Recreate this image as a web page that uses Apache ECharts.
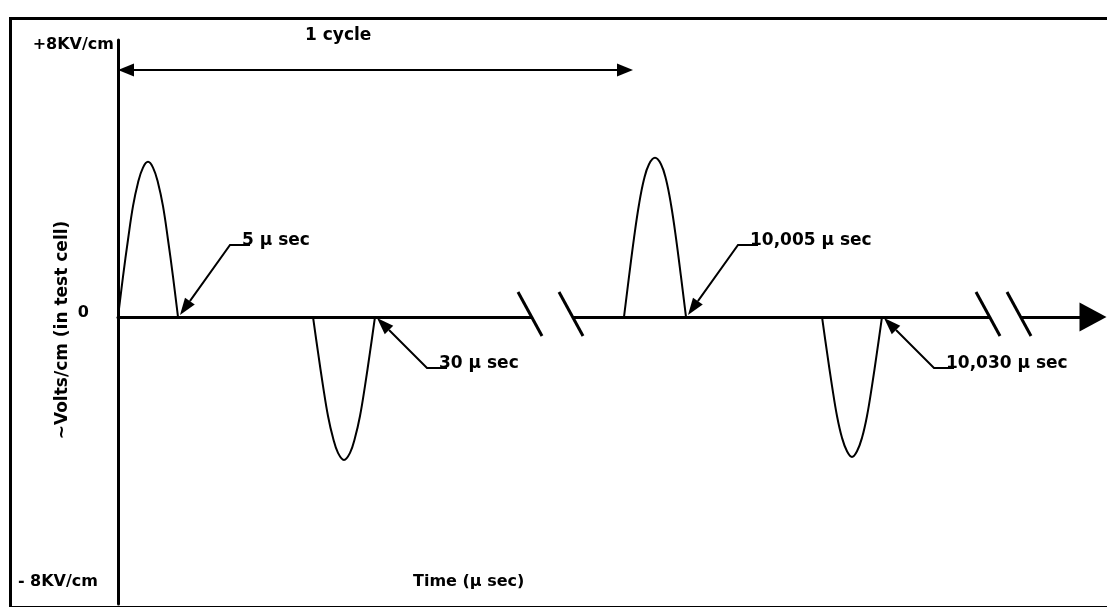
<!DOCTYPE html>
<html>
<head>
<meta charset="utf-8">
<script src="https://cdn.jsdelivr.net/npm/echarts@6/dist/echarts.min.js"></script>
<style>
  html, body { margin: 0; padding: 0; background: #fff; }
  #main { width: 1107px; height: 607px; }
</style>
</head>
<body>
<div id="main"></div>
<script>
// x = schematic position along the (broken, not to scale) time axis
// y = field strength in KV/cm
const pulse1 = [[0, 0], [5, 1.2], [10, 2.3], [15, 3.3], [20, 4.0], [25, 4.45], [30, 4.62],
  [35, 4.45], [40, 4.0], [45, 3.3], [50, 2.3], [55, 1.2], [60, 0]];
const pulse2 = [[195, 0], [200, -1.05], [205, -2.05], [210, -2.95], [215, -3.6], [220, -4.05], [226, -4.26],
  [232, -4.05], [237, -3.6], [242, -2.95], [247, -2.05], [252, -1.05], [257, 0]];
const pulse3 = [[506, 0], [511, 1.2], [516, 2.35], [521, 3.35], [526, 4.1], [531, 4.55], [537, 4.74],
  [543, 4.55], [548, 4.1], [553, 3.35], [558, 2.35], [563, 1.2], [568, 0]];
const pulse4 = [[704, 0], [709, -1.05], [714, -2.05], [719, -2.95], [724, -3.6], [729, -4.0], [734, -4.17],
  [739, -4.0], [744, -3.6], [749, -2.95], [754, -2.05], [759, -1.05], [764, 0]];

const yTickValues = [8, 0, -8];
const yTickLabels = ['+8KV/cm', '0', '- 8KV/cm'];

const cycleSpan = [0, 515];   // "1 cycle"
const cycleLevel = 7.36;
const breakPairs = [[413, 454], [871, 902]];   // "//" axis breaks
const calloutAt = [60, 257, 568, 764];
const calloutLabels = ['5 μ sec', '30 μ sec', '10,005 μ sec', '10,030 μ sec'];

const FONT = 'DejaVu Sans';
const INK = '#000';

const chart = echarts.init(document.getElementById('main'), null, { renderer: 'canvas' });

// axis break: white gap + two slashes
function renderBreak(params, api) {
  const a = api.coord([api.value(0), 0]);
  const b = api.coord([api.value(1), 0]);
  const slash = p => ({
    type: 'line',
    shape: { x1: p[0] - 13, y1: p[1] - 25, x2: p[0] + 11, y2: p[1] + 19 },
    style: { stroke: INK, lineWidth: 3 }
  });
  return {
    type: 'group',
    children: [
      { type: 'rect', shape: { x: a[0], y: a[1] - 4, width: b[0] - a[0], height: 8 }, style: { fill: '#fff' } },
      slash(a), slash(b)
    ]
  };
}

// callout arrow + label
function renderCallout(params, api) {
  const i = params.dataIndex;
  const p = api.coord([api.value(0), 0]);
  const up = i % 2 === 0;
  const tx = p[0] + 2, ty = p[1] + (up ? -2 : 1);
  const ex = tx + 50, ey = ty + (up ? -70 : 50);
  const dx = ex - tx, dy = ey - ty, len = Math.sqrt(dx * dx + dy * dy);
  const ux = dx / len, uy = dy / len;
  const hl = 17, hw = 6;
  const bx = tx + ux * hl, by = ty + uy * hl;
  return {
    type: 'group',
    children: [
      { type: 'polyline', shape: { points: [[bx, by], [ex, ey], [ex + 20, ey]] },
        style: { stroke: INK, lineWidth: 2, fill: null } },
      { type: 'polygon', shape: { points: [[tx, ty], [bx - uy * hw, by + ux * hw], [bx + uy * hw, by - ux * hw]] },
        style: { fill: INK } },
      { type: 'text', x: ex + 12, y: ey + 4,
        style: { text: calloutLabels[i], fill: INK, fontSize: 17, fontWeight: 'bold', fontFamily: FONT,
          align: 'left', verticalAlign: 'bottom' } }
    ]
  };
}

const pulseLine = data => ({
  type: 'line',
  data: data,
  smooth: 0.4,
  showSymbol: false,
  silent: true,
  lineStyle: { color: INK, width: 2 },
  z: 3
});

const tickText = { fontSize: 16, fontWeight: 'bold', fontFamily: FONT, color: INK, lineHeight: 8 };
const headLen = 16;

const option = {
  backgroundColor: '#fff',
  animation: false,
  textStyle: { fontFamily: FONT },
  title: [
    { text: '1 cycle', left: 305, top: 27, padding: 0,
      textStyle: { fontSize: 17, fontWeight: 'bold', fontFamily: FONT, color: INK } },
    { text: 'Time (μ sec)', left: 413, top: 574, padding: 0,
      textStyle: { fontSize: 16, fontWeight: 'bold', fontFamily: FONT, color: INK } }
  ],
  graphic: [
    { type: 'rect', left: 8, top: 16, shape: { width: 1130, height: 589 },
      style: { stroke: INK, lineWidth: 3, fill: null }, silent: true }
  ],
  grid: { left: 118, right: 14, top: 40, bottom: 3, outerBoundsMode: 'none' },
  xAxis: {
    type: 'value',
    min: 0,
    max: 975,
    axisLine: { lineStyle: { color: INK, width: 3 }, symbol: ['none', 'triangle'], symbolSize: [29, 27] },
    axisTick: { show: false },
    axisLabel: { show: false },
    splitLine: { show: false }
  },
  yAxis: {
    type: 'value',
    min: -8.55,
    max: 8.25,
    name: '~Volts/cm (in test cell)',
    nameLocation: 'middle',
    nameRotate: 90,
    nameGap: 47,
    nameMoveOverlap: false,
    nameTextStyle: { fontSize: 17, fontWeight: 'bold', fontFamily: FONT, color: INK, padding: [0, 16, 0, 0] },
    axisLine: { show: true, lineStyle: { color: INK, width: 3 } },
    axisTick: { show: false },
    splitLine: { show: false },
    axisLabel: {
      customValues: yTickValues,
      margin: 4,
      verticalAlign: 'bottom',
      formatter: v => {
        const i = yTickValues.indexOf(v);
        return '{' + ['a', 'b', 'c'][i] + '|' + yTickLabels[i] + '}';
      },
      rich: {
        a: tickText,
        b: Object.assign({ padding: [0, 25, 0, 0] }, tickText),
        c: Object.assign({ padding: [0, 16, 0, 0] }, tickText)
      }
    }
  },
  series: [
    Object.assign(pulseLine(pulse1), {
      markLine: {
        silent: true,
        symbol: ['triangle', 'triangle'],
        symbolSize: [13, headLen],
        label: { show: false },
        lineStyle: { color: INK, width: 2, type: 'solid' },
        // triangles sit centred on the ends, pull them in so the tips land on the span
        data: [[
          { coord: [cycleSpan[0] + headLen / 2, cycleLevel] },
          { coord: [cycleSpan[1] - headLen / 2, cycleLevel] }
        ]]
      }
    }),
    pulseLine(pulse2),
    pulseLine(pulse3),
    pulseLine(pulse4),
    {
      type: 'custom',
      silent: true,
      renderItem: renderBreak,
      data: breakPairs,
      encode: { x: [0, 1] },
      z: 4
    },
    {
      type: 'custom',
      silent: true,
      renderItem: renderCallout,
      data: calloutAt.map(x => [x, 0]),
      z: 5
    }
  ]
};

chart.setOption(option);
</script>
</body>
</html>
